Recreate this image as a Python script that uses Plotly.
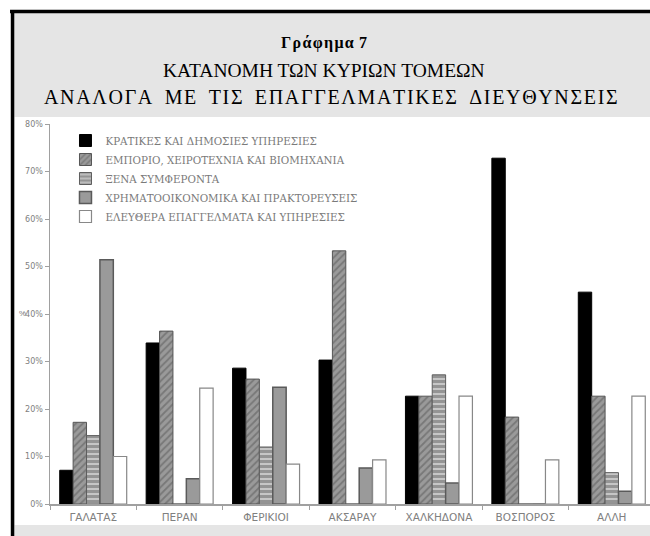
import plotly.graph_objects as go

# ---- data ----
categories = ["ΓΑΛΑΤΑΣ", "ΠΕΡΑΝ", "ΦΕΡΙΚΙΟΙ", "ΑΚΣΑΡΑΥ", "ΧΑΛΚΗΔΟΝΑ", "ΒΟΣΠΟΡΟΣ", "ΑΛΛΗ"]
series_names = [
    "ΚΡΑΤΙΚΕΣ ΚΑΙ ΔΗΜΟΣΙΕΣ ΥΠΗΡΕΣΙΕΣ",
    "ΕΜΠΟΡΙΟ, ΧΕΙΡΟΤΕΧΝΙΑ ΚΑΙ ΒΙΟΜΗΧΑΝΙΑ",
    "ΞΕΝΑ ΣΥΜΦΕΡΟΝΤΑ",
    "ΧΡΗΜΑΤΟΟΙΚΟΝΟΜΙΚΑ ΚΑΙ ΠΡΑΚΤΟΡΕΥΣΕΙΣ",
    "ΕΛΕΥΘΕΡΑ ΕΠΑΓΓΕΛΜΑΤΑ ΚΑΙ ΥΠΗΡΕΣΙΕΣ",
]
kratikes = [7.1, 33.9, 28.6, 30.3, 22.7, 72.8, 44.6]
emporio = [17.2, 36.4, 26.3, 53.3, 22.7, 18.3, 22.7]
xena = [14.4, 0, 12.0, 0, 27.2, 0, 6.6]
chrimatooikonomika = [51.4, 5.3, 24.6, 7.6, 4.4, 0, 2.7]
eleuthera = [10.0, 24.4, 8.4, 9.3, 22.7, 9.3, 22.7]
y_tickvals = [0, 10, 20, 30, 40, 50, 60, 70, 80]
y_ticktext = ["0%", "10%", "20%", "30%", "40%", "50%", "60%", "70%", "80%"]

W, H = 650, 536
ML, MR, MT, MB = 49.5, 0, 124, 32
PW = W - ML - MR
PH = H - MT - MB


def px(xp):
    """window pixel x -> paper x"""
    return (xp - ML) / PW


def py(yp):
    """window pixel y -> paper y"""
    return (H - MB - yp) / PH


fig = go.Figure()

styles = [
    dict(color="black", line=dict(color="black", width=1)),
    dict(color="#8c8c8c", line=dict(color="#555555", width=1),
         pattern=dict(shape="/", fgcolor="#555555", bgcolor="#9a9a9a", size=5, solidity=0.35)),
    dict(color="#b0b0b0", line=dict(color="#5e5e5e", width=1),
         pattern=dict(shape="-", fgcolor="#626262", bgcolor="#c6c6c6", size=5, solidity=0.6)),
    dict(color="#9a9a9a", line=dict(color="#5a5a5a", width=1.5)),
    dict(color="white", line=dict(color="#888888", width=1.2)),
]
values = [kratikes, emporio, xena, chrimatooikonomika, eleuthera]
for name, vals, st in zip(series_names, values, styles):
    fig.add_trace(go.Bar(x=categories, y=vals, name=name, marker=st))

shapes = [
    dict(type="rect", xref="paper", yref="paper", x0=px(12), x1=px(700), y0=py(12), y1=py(560),
         fillcolor="#e5e5e5", line=dict(width=0), layer="below"),
    dict(type="rect", xref="paper", yref="paper", x0=px(14), x1=px(700), y0=py(117), y1=py(525),
         fillcolor="white", line=dict(width=0), layer="below"),
    dict(type="line", xref="paper", yref="paper", x0=px(9.5), x1=px(700), y0=py(11.5), y1=py(11.5),
         line=dict(color="black", width=3.5)),
    dict(type="line", xref="paper", yref="paper", x0=px(12), x1=px(12), y0=py(10), y1=py(560),
         line=dict(color="black", width=3.5)),
]

hs = "\u200a"
title1 = "<b>" + hs.join("Γράφημα") + hs + " 7</b>"
title3 = hs.join("ΑΝΑΛΟΓΑ ΜΕ ΤΙΣ ΕΠΑΓΓΕΛΜΑΤΙΚΕΣ ΔΙΕΥΘΥΝΣΕΙΣ").replace(" ", " \u2009")

annotations = [
    dict(text=title1, xref="paper", yref="paper",
         x=px(324), y=py(43), showarrow=False, xanchor="center", yanchor="middle",
         font=dict(family="Liberation Serif", size=16, color="black")),
    dict(text="ΚΑΤΑΝΟΜΗ ΤΩΝ ΚΥΡΙΩΝ ΤΟΜΕΩΝ", xref="paper", yref="paper",
         x=px(324), y=py(70), showarrow=False, xanchor="center", yanchor="middle",
         font=dict(family="Liberation Serif", size=19.5, color="black")),
    dict(text=title3, xref="paper", yref="paper",
         x=px(331), y=py(97), showarrow=False, xanchor="center", yanchor="middle",
         font=dict(family="Liberation Serif", size=20, color="black")),
    dict(text="%", xref="paper", yref="paper", x=px(22), y=py(313), showarrow=False,
         xanchor="center", yanchor="middle", font=dict(family="Liberation Sans", size=8, color="#777777")),
]

fig.update_layout(
    width=W, height=H,
    margin=dict(l=ML, r=MR, t=MT, b=MB, pad=0),
    paper_bgcolor="white",
    plot_bgcolor="rgba(0,0,0,0)",
    barmode="group",
    bargap=0.225,
    bargroupgap=0,
    shapes=shapes,
    annotations=annotations,
    showlegend=True,
    legend=dict(x=px(65), y=py(126), xanchor="left", yanchor="top",
                bgcolor="rgba(0,0,0,0)", itemwidth=30, tracegroupgap=0,
                font=dict(family="DejaVu Serif", size=10.3, color="#7a7a7a"),
                traceorder="normal"),
    xaxis=dict(range=[-0.5, -0.5 + PW / 86.5], showgrid=False, showline=True,
               linecolor="#a0a0a0", linewidth=1.5, ticks="outside", tickson="boundaries",
               ticklen=4, tickcolor="#a0a0a0", ticklabelstandoff=3,
               tickfont=dict(family="DejaVu Sans", size=10.5, color="#808080"), fixedrange=True),
    yaxis=dict(range=[0, 80], tickvals=y_tickvals, ticktext=y_ticktext, showgrid=False,
               showline=True, linecolor="#a0a0a0", linewidth=1.5, ticks="outside", ticklen=4,
               tickcolor="#a0a0a0", zeroline=False, fixedrange=True,
               tickfont=dict(family="DejaVu Sans", size=8, color="#808080")),
)

fig.write_html(
    "out.html",
    config={"displayModeBar": False, "staticPlot": True},
    post_script="document.documentElement.style.overflow='hidden';"
                "document.body.style.margin='0';document.body.style.overflow='hidden';",
)
